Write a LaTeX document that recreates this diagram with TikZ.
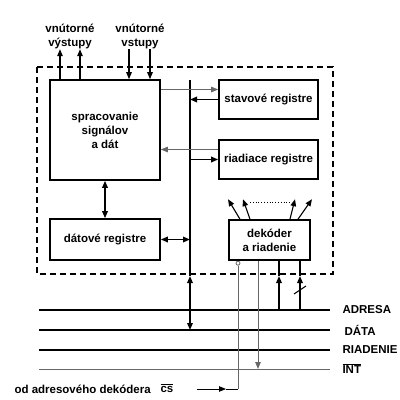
\documentclass[tikz,border=0pt]{standalone}
\usepackage{fontspec}
\setmainfont{Liberation Sans}
\usetikzlibrary{arrows.meta,positioning}

\begin{document}
\begin{tikzpicture}[x=1pt,y=-1pt,>={Triangle[length=7pt,width=5.5pt]},
  font=\fontsize{11.5}{14}\selectfont\bfseries,
  blok/.style={draw,line width=1.6pt,align=center,inner sep=0pt},
  hrubo/.style={line width=1.6pt},
  stredne/.style={line width=1.1pt},
  tenko/.style={line width=0.9pt,black!60}]
  \useasboundingbox (0,0) rectangle (400,400);

  % hranica modulu
  \draw[hrubo,dash pattern=on 6pt off 4pt] (37,67) rectangle (333,274);

  % bloky
  \node[blok,minimum width=110pt,minimum height=100pt] (spr) at (105,130) {spracovanie\\signálov\\a dát};
  \node[blok,minimum width=110pt,minimum height=41pt] (dat) at (105,239.5) {dátové registre};
  \node[blok,minimum width=99pt,minimum height=39pt] (stav) at (268.5,99.5) {stavové registre};
  \node[blok,minimum width=99pt,minimum height=39pt] (ria) at (268.5,159.5) {riadiace registre};
  \node[blok,minimum width=81pt,minimum height=40pt] (dek) at (269.5,240) {dekóder\\a riadenie};

  % zbernice
  \coordinate (adrL) at (39,310);  \coordinate (adrR) at (330,310);
  \coordinate (datL) at (39,330);  \coordinate (datR) at (330,330);
  \coordinate (riaL) at (39,350);  \coordinate (riaR) at (330,350);
  \coordinate (intL) at (39,369);  \coordinate (intR) at (330,369);
  \draw[hrubo] (adrL) -- (adrR);
  \draw[hrubo] (datL) -- (datR);
  \draw[hrubo] (riaL) -- (riaR);
  \draw[tenko] (intL) -- (intR);
  \node[anchor=west] (adresa) at (339,310) {ADRESA};
  \node[anchor=west] (data) at (341,330) {DÁTA};
  \node[anchor=west] (riadenie) at (339,350) {RIADENIE};
  \node[anchor=west] (int) at (339,369) {$\overline{\hbox{INT}}$};

  % vnutorne vstupy a vystupy
  \node[align=center] (vyst) at (70,36) {vnútorné\\výstupy};
  \node[align=center] (vst) at (140,36) {vnútorné\\vstupy};
  \draw[stredne,->] ([xshift=-45pt]spr.north) -- +(0,-30);
  \draw[stredne,->] ([xshift=-25pt]spr.north) -- +(0,-30);
  \draw[stredne,<-] ([xshift=24pt]spr.north) -- +(0,-30);
  \draw[stredne,<-] ([xshift=45pt]spr.north) -- +(0,-30);

  % vnutorna zbernica
  \coordinate (busT) at (190,80);
  \coordinate (busH) at (190,276);
  \draw[hrubo] (busT) -- (busH);
  \draw[hrubo,<->] (busH) -- (busH |- datL);
  \draw[hrubo,->] (stav.west) -- (stav.west -| busT);
  \draw[hrubo,->] (ria.west -| busT) -- (ria.west);
  \draw[hrubo,<->] (dat.east) -- (dat.east -| busT);
  \draw[hrubo,<->] (spr.south) -- (dat.north);
  \draw[tenko,->] ([yshift=10pt]stav.west -| spr.east) -- ([yshift=10pt]stav.west);
  \draw[tenko,->] ([yshift=10pt]ria.west) -- ([yshift=10pt]ria.west -| spr.east);

  % dekoder
  \draw[stredne,->] ([xshift=-29.5pt]dek.north) -- +(-12,-20);
  \draw[stredne,->] ([xshift=-19.5pt]dek.north) -- +(-7,-20);
  \draw[stredne,->] ([xshift=20.5pt]dek.north) -- +(5,-20);
  \draw[stredne,->] ([xshift=28.5pt]dek.north) -- +(14,-20);
  \draw[dotted,line width=0.8pt] (250,202) -- (292,202);

  \coordinate (a1) at (279,276);
  \coordinate (a2) at (300,276);
  \draw[hrubo,->] (a1 |- adrL) -- (a1);
  \draw[hrubo] (a1) -- (a1 |- dek.south);
  \draw[hrubo,->] (a2 |- adrL) -- (a2);
  \draw[hrubo] (a2) -- (a2 |- dek.south);
  \draw[stredne] (294,294) -- (306,286);

  \coordinate (pInt) at (258,369);
  \draw[tenko,->] (pInt |- dek.south) -- (pInt);

  % vyber obvodu
  \node[anchor=west] (od) at (11,389) {od adresového dekódera};
  \node (cs) at (167,388) {$\overline{\hbox{cs}}$};
  \coordinate (csR) at (238,389);
  \node[circle,draw,black!60,line width=0.8pt,fill=white,inner sep=0pt,minimum size=4pt,anchor=north] (kruh) at (dek.south -| csR) {};
  \draw[line width=0.8pt,->] ([xshift=20pt]cs.east |- csR) -- ([xshift=-12pt]csR);
  \draw[line width=0.8pt] ([xshift=-12pt]csR) -- (csR);
  \draw[tenko] (csR) -- (kruh.south);
\end{tikzpicture}
\end{document}
